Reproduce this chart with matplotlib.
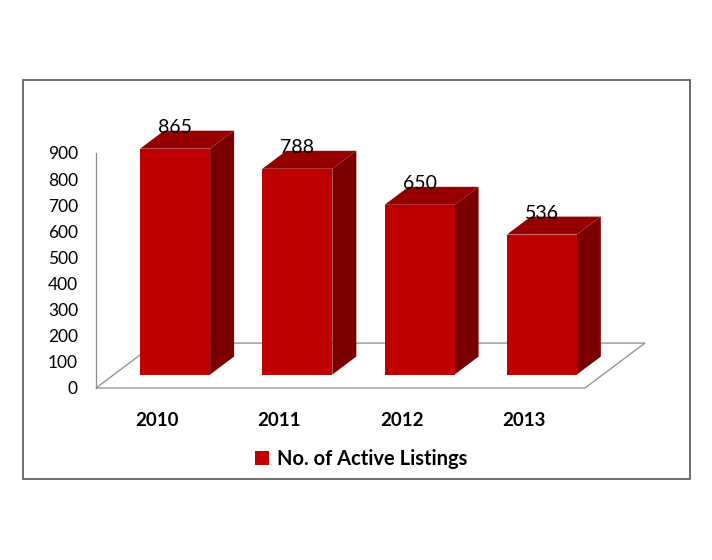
import matplotlib.pyplot as plt
import numpy as np
from matplotlib.patches import Polygon, Rectangle, Patch

years = ['2010', '2011', '2012', '2013']
listings = [865, 788, 650, 536]
yticks = [0, 100, 200, 300, 400, 500, 600, 700, 800, 900]

plt.rcParams['font.family'] = ['Lato', 'DejaVu Sans']

fig = plt.figure(figsize=(7.12, 5.6), dpi=100)
fig.patches.append(Rectangle((23 / 712, 81 / 560), 667 / 712, 399 / 560,
                             transform=fig.transFigure, fill=False,
                             edgecolor='#555555', lw=1.2))

ax = fig.add_axes([96 / 712, 172 / 560, 489 / 712, 235 / 560])
ax.set_facecolor('none')
ax.set_xlim(0, 4)
ax.set_ylim(0, 900)

# depth of the floor, in data units
dx, dy = 0.49, 172
f1, f2 = 0.30, 0.70   # front and back of the bars, as a share of the depth
w = 0.573

# floor
floor = Polygon([(0, 0), (4, 0), (4 + dx, dy), (dx, dy)], closed=True,
                facecolor='white', edgecolor='#8c8c8c', lw=0.9, clip_on=False, zorder=1)
ax.add_patch(floor)

x = np.arange(len(years)) + 0.5
front_x = x + f1 * dx
bars = ax.bar(front_x, listings, width=w, bottom=f1 * dy, color='#c00000',
              label='No. of Active Listings', clip_on=False, zorder=3)

ddx = (f2 - f1) * dx
ddy = (f2 - f1) * dy
for fx, v in zip(front_x, listings):
    left = fx - w / 2
    right = fx + w / 2
    base = f1 * dy
    top = base + v
    side = Polygon([(right, base), (right + ddx, base + ddy), (right + ddx, top + ddy), (right, top)],
                   closed=True, facecolor='#7a0000', edgecolor='none', clip_on=False, zorder=2)
    lid = Polygon([(left, top), (right, top), (right + ddx, top + ddy), (left + ddx, top + ddy)],
                  closed=True, facecolor='#960000', edgecolor='none', clip_on=False, zorder=2)
    ax.add_patch(side)
    ax.add_patch(lid)
    ax.text(fx, top + 80, str(v), ha='center', va='center', fontsize=14, color='black', zorder=4)

ax.set_yticks(yticks)
ax.set_yticklabels([str(t) for t in yticks], fontsize=12.5)
ax.set_xticks(x)
ax.set_xticklabels(years, fontsize=13.5, fontweight='bold')
ax.tick_params(axis='y', length=0, pad=13)
ax.tick_params(axis='x', length=0, pad=17)

for s in ['top', 'right', 'bottom']:
    ax.spines[s].set_visible(False)
ax.spines['left'].set_color('#8c8c8c')
ax.spines['left'].set_linewidth(0.9)
ax.spines['left'].set_bounds(0, 900)

fig.legend(handles=[Patch(facecolor='#c00000')], labels=['No. of Active Listings'],
           loc='center', bbox_to_anchor=(361 / 712, (560 - 459) / 560),
           frameon=False, handlelength=0.7, handleheight=0.7, handletextpad=0.4,
           prop={'size': 14.5, 'weight': 'bold'})

fig.savefig('out.png', dpi=100)
